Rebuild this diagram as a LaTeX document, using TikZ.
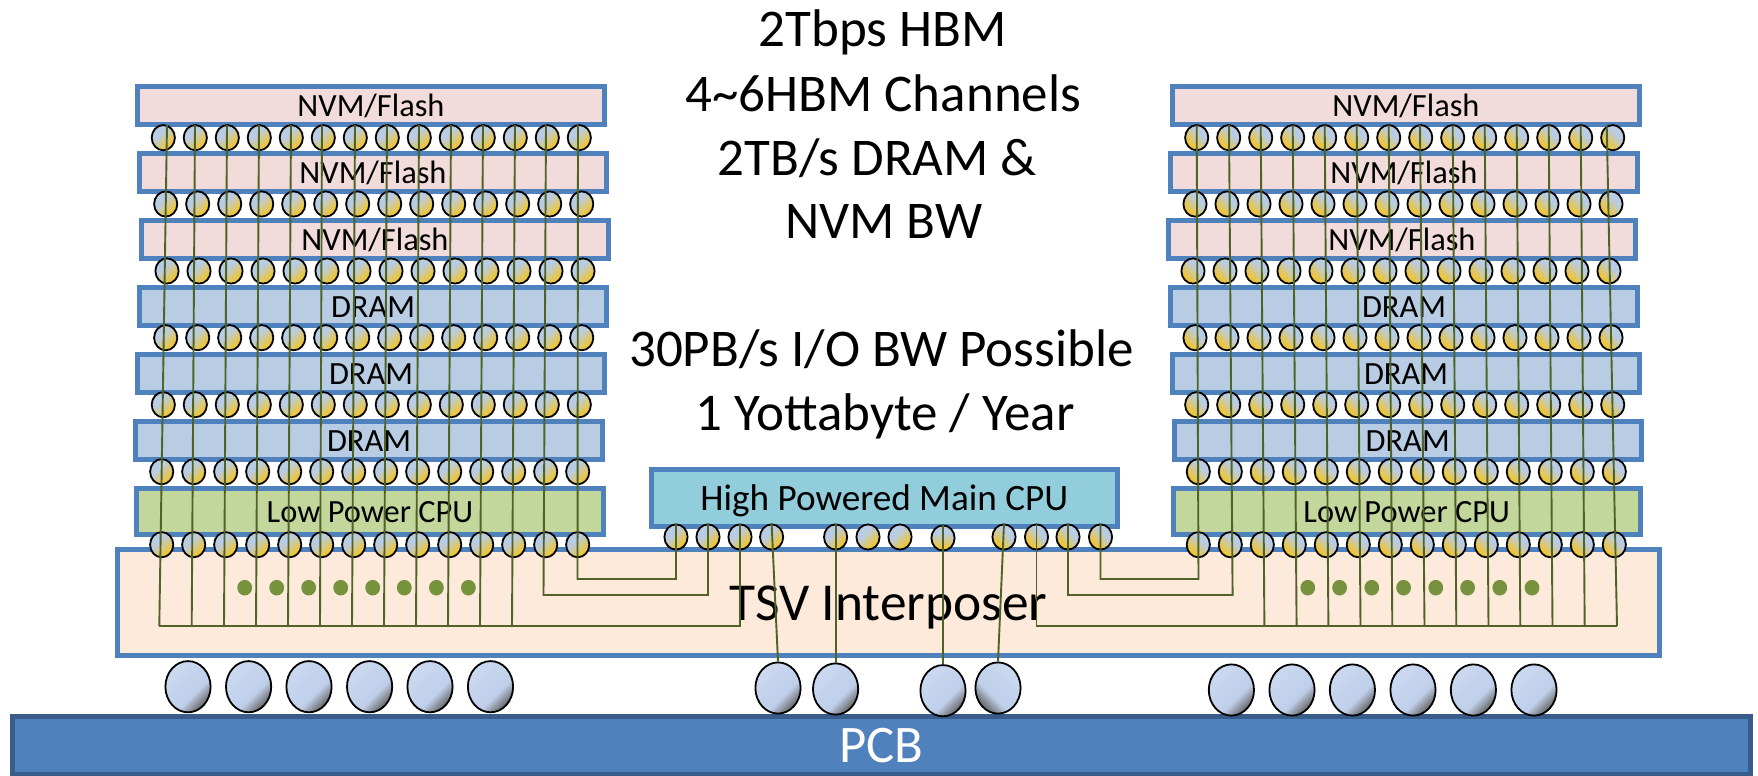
\documentclass[tikz,border=0pt]{standalone}
\usepackage{fontspec}
\setmainfont{Carlito}
\usetikzlibrary{shapes.geometric, positioning}
\definecolor{chipblue}{HTML}{4F81BD}
\definecolor{pcbedge}{HTML}{385D8A}
\definecolor{nvmfill}{HTML}{F2DCDB}
\definecolor{dramfill}{HTML}{B8CCE4}
\definecolor{lowfill}{HTML}{C3D69B}
\definecolor{mainfill}{HTML}{92CDDC}
\definecolor{tsvfill}{HTML}{FDEADA}
\definecolor{wirecol}{HTML}{4F6228}
\definecolor{dotcol}{HTML}{76923C}
\definecolor{bumpblue}{HTML}{B8CCE4}
\definecolor{bumpgold}{HTML}{F2C52E}
\definecolor{ballblue}{HTML}{CBD9F0}
\definecolor{ballmid}{HTML}{BFCFEA}
\definecolor{balldark}{HTML}{6C6C6C}
\pgfdeclareverticalshading{bumpshade}{100bp}{color(0bp)=(bumpgold); color(29bp)=(bumpgold); color(60bp)=(bumpblue); color(100bp)=(bumpblue)}
\pgfdeclareverticalshading{ballshade}{100bp}{color(0bp)=(balldark); color(26bp)=(balldark); color(40bp)=(ballmid); color(75bp)=(ballblue); color(100bp)=(ballblue)}
\tikzset{
	chip/.style={draw=chipblue, line width=2.5pt, minimum width=233.5pt, minimum height=19pt, inner sep=0pt, text height=11.2pt, text depth=0pt, font=\fontsize{16.2}{19}\selectfont},
	nvm/.style={chip, fill=nvmfill},
	dram/.style={chip, fill=dramfill},
	lowcpu/.style={chip, fill=lowfill, minimum height=23pt},
	bump/.style={ellipse, draw=black, line width=0.9pt, minimum width=11.6pt, minimum height=12.6pt, inner sep=0pt, shading=bumpshade},
	bumpl/.style={bump, shading angle=45},
	bumpr/.style={bump, shading angle=-45},
	ball/.style={ellipse, draw=black, line width=0.9pt, minimum width=22.6pt, minimum height=25.6pt, inner sep=0pt, shading=ballshade, shading angle=45},
	wire/.style={draw=wirecol, line width=0.95pt},
	dot/.style={ellipse, fill=dotcol, minimum width=7.4pt, minimum height=7.8pt, inner sep=0pt},
	headline/.style={font=\fontsize{26.5}{32}\selectfont, inner sep=0pt, anchor=base}
}
\begin{document}
\begin{tikzpicture}[x=0.5pt,y=-0.5pt]
	\useasboundingbox (0,0) rectangle (1758,776);

	% board and interposer
	\node[draw=pcbedge, fill=chipblue, line width=2.5pt, minimum width=869pt, minimum height=29pt, text=white, font=\fontsize{26.4}{32}\selectfont, text height=17pt, text depth=0pt, inner sep=0pt] (pcb) at (881.5,745.5) {PCB};
	\node[chip, fill=tsvfill, minimum width=771pt, minimum height=53pt, font=\fontsize{26.7}{32}\selectfont, text height=17.5pt] (tsv) at (888.5,602.5) {TSV Interposer};
	\node[chip, fill=mainfill, minimum width=233pt, minimum height=28.5pt, font=\fontsize{18.6}{22}\selectfont, text height=12pt] (maincpu) at (884.3,498) {High Powered Main CPU};

	% left stack
	\node[nvm] (lnvma) at (371,105.5) {NVM/Flash};
	\node[nvm] (lnvmb) at (373,172.5) {NVM/Flash};
	\node[nvm] (lnvmc) at (375,239) {NVM/Flash};
	\node[dram] (ldrama) at (373,306) {DRAM};
	\node[dram] (ldramb) at (371,373) {DRAM};
	\node[dram] (ldramc) at (369,440) {DRAM};
	\node[lowcpu] (llow) at (370,511.5) {Low Power CPU};

	% right stack
	\node[nvm] (rnvma) at (1406,105.5) {NVM/Flash};
	\node[nvm] (rnvmb) at (1404,172.5) {NVM/Flash};
	\node[nvm] (rnvmc) at (1402,239) {NVM/Flash};
	\node[dram] (rdrama) at (1404,306) {DRAM};
	\node[dram] (rdramb) at (1406,373) {DRAM};
	\node[dram] (rdramc) at (1407.7,440) {DRAM};
	\node[lowcpu] (rlow) at (1406.7,511.5) {Low Power CPU};

	% micro bumps, row by row
	\foreach \r/\lx/\rx/\y in {1/163.3/1196.7/137.7, 2/165.7/1195/204, 3/167/1193/271, 4/165.7/1195/337.7, 5/163.3/1196.7/404.7, 6/161.7/1198.3/471.7, 7/161.7/1198.3/544.7}{
		\foreach \i in {1,...,14}{
			\node[bumpl] (lb\r-\i) at ({\lx+32*(\i-1)},\y) {};
			\node[bumpr] (rb\r-\i) at ({\rx+32*(\i-1)},\y) {};
		}
	}

	% bumps under the main cpu
	\foreach \n/\x/\y in {a/676/537, b/708/537, c/740/537, d/771.6/537, e/835.6/537, f/868/537, g/900/537}{
		\node[bumpl] (m\n) at (\x,\y) {};
	}
	\node[bump] (mh) at (943,538) {};
	\foreach \n/\x/\y in {i/1004/537, j/1036.5/537, k/1068/537, l/1100.5/537}{
		\node[bumpr] (m\n) at (\x,\y) {};
	}

	% package balls
	\foreach \n/\x/\y in {a/188/686.7, b/248.6/686.7, c/309/686.7, d/369.6/686.7, e/430/686.7, f/490.5/686.7, g/778/688, h/835.6/689, i/943/690.7}{
		\node[ball] (ball\n) at (\x,\y) {};
	}
	\node[ball, shading angle=-45] (ballj) at (998,688) {};
	\foreach \n/\x in {k/1231.4, l/1292, m/1352.4, n/1413, o/1473.4, p/1534}{
		\node[ball] (ball\n) at (\x,690) {};
	}

	% dots in the interposer
	\foreach \x in {244.7,276.7,308.7,340.7,372.7,404.3,436.4,468.4,1307.8,1339.6,1371.8,1403.6,1435.8,1467.6,1499.8,1532}{
		\node[dot] (dot\x) at (\x,587.7) {};
	}

	% wires
	\coordinate (lbusa) at (159.3,626);
	\coordinate (rbusa) at (1617,626);
	\foreach \i/\tx/\bx in {1/167/159.3, 2/195/191.7, 3/227/224, 4/259/256, 5/291/288, 6/322/320, 7/355/352, 8/387/384, 9/419/416, 10/451/448, 11/483/480, 12/515/512}{
		\coordinate (ltop\i) at (\tx,125);
		\coordinate (lend\i) at (\bx,626);
		\draw[wire] (ltop\i) -- (lend\i);
	}
	\foreach \i/\tx/\bx in {3/1260.7/1264.4, 4/1292.7/1296.6, 5/1324.7/1328.4, 6/1356.7/1360.5, 7/1388.7/1392.3, 8/1420/1424.5, 9/1452.7/1456.3, 10/1484.7/1488.5, 11/1516.7/1520.3, 12/1548.7/1552.5, 13/1580.7/1584.7, 14/1606.7/1617}{
		\coordinate (rtop\i) at (\tx,125);
		\coordinate (rend\i) at (\bx,626);
		\draw[wire] (rtop\i) -- (rend\i);
	}
	% left stack to main cpu
	\coordinate (ltopm) at (546,125);
	\coordinate (lcorm) at (543.5,595);
	\coordinate (ltopn) at (578,125);
	\coordinate (lcorn) at (577.5,579);
	\draw[wire] (ltopm) -- (lcorm) -| (mb.north);
	\draw[wire] (ltopn) -- (lcorn) -| (ma.north);
	\draw[wire] (lbusa) -| (mc.north);
	% right stack to main cpu
	\coordinate (rtopa) at (1196.7,125);
	\coordinate (rcora) at (1198.5,579);
	\coordinate (rtopb) at (1229,125);
	\coordinate (rcorb) at (1232.6,595);
	\draw[wire] (rtopa) -- (rcora) -| (ml.north);
	\draw[wire] (rtopb) -- (rcorb) -| (mk.north);
	\draw[wire] (rbusa) -| (mj.north);
	% main cpu to balls
	\draw[wire] (md.north) -- (ballg.north);
	\draw[wire] (me.north) -- (ballh.north);
	\draw[wire] (mh.north) -- (balli.north);
	\draw[wire] (mi.north) -- (ballj.north);

	% headline text
	\node[headline] (ta) at (882.8,46.7) {2Tbps HBM};
	\node[headline] (tb) at (883.3,111) {4\textasciitilde 6HBM Channels};
	\node[headline] (tc) at (877.5,175) {2TB/s DRAM \&};
	\node[headline] (td) at (883.7,238.7) {NVM BW};
	\node[headline] (te) at (881.5,366.7) {30PB/s I/O BW Possible};
	\node[headline] (tf) at (885,430.7) {1 Yottabyte / Year};
\end{tikzpicture}
\end{document}
